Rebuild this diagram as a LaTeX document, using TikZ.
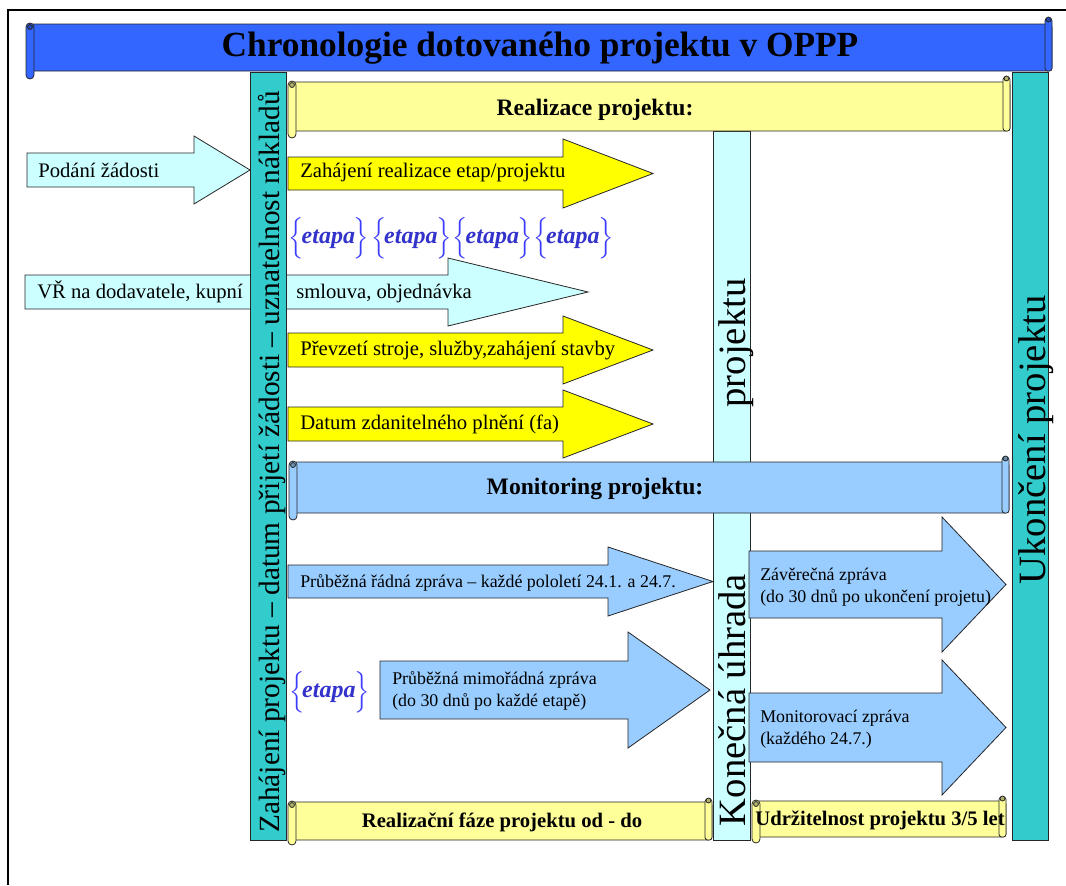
\documentclass[tikz,border=0pt]{standalone}
\usepackage{amsmath}
\usepackage{fontspec}
\setmainfont{Liberation Serif}
\definecolor{titleblue}{RGB}{51,102,255}
\definecolor{barteal}{RGB}{51,204,204}
\definecolor{lightcy}{RGB}{204,255,255}
\definecolor{arrowyellow}{RGB}{255,255,0}
\definecolor{scrollyellow}{RGB}{255,255,153}
\definecolor{lightblue}{RGB}{153,204,255}
\definecolor{etapablue}{RGB}{51,51,204}
\definecolor{bracebl}{RGB}{60,60,255}
\newcommand\drawscroll[6]{%
 \draw[outl, fill=#6, rounded corners=2.5pt] (#1+4,#2+#5) rectangle (#3,#4-#5);
 \draw[outl, fill=#6, rounded corners=2pt] (#3-7,#2+2) rectangle (#3,#4-#5);
 \draw[outl, fill=#6!70!black] (#3-3.5,#2+3.5) circle[radius=2.5];
 \draw[outl, fill=#6, rounded corners=3pt] (#1,#2+#5-1) rectangle (#1+8,#4);
 \draw[outl, fill=#6!70!black] (#1+4,#2+#5+3) circle[radius=2.5];
}
\newcommand\barrow[7]{%
 \draw[outl, fill=#7] (#1,#4) -- (#2,#4) -- (#2,#4-#6) -- (#3,{(#4+#5)/2}) -- (#2,#5+#6) -- (#2,#5) -- (#1,#5) -- cycle;}
\newcommand\etapa{{\fontsize{17}{17}\selectfont\textcolor{bracebl}{$\Bigl\{$}}\kern-2pt\textcolor{etapablue}{\bfseries\itshape etapa}\kern-1pt{\fontsize{17}{17}\selectfont\textcolor{bracebl}{$\Bigr\}$}}}
\tikzset{
 outl/.style={draw=black!85, line width=0.6pt},
 txt/.style={inner sep=0pt, font=\fontsize{15.5}{18}\selectfont},
 small/.style={inner sep=0pt, font=\fontsize{13.4}{16.5}\selectfont, align=left},
 bold/.style={inner sep=0pt, font=\fontsize{#1}{#1}\selectfont\bfseries},
 big/.style={rotate=90, inner sep=0pt, font=\fontsize{29}{30}\selectfont, text height=22pt, text depth=7pt},
 etap/.style={inner sep=0pt, font=\fontsize{18}{20}\selectfont},
}
\begin{document}
\begin{tikzpicture}[x=0.75pt,y=-0.75pt]
\useasboundingbox (0,0) rectangle (1066,885);
% frame
\draw[line width=2pt] (8,885) -- (8,10) -- (1066,10);
% arrow behind left bar
\barrow{25}{448}{588}{275}{309}{17}{lightcy}
% bars
\draw[outl, fill=barteal] (250,72) rectangle (286,840);
\draw[outl, fill=lightcy] (713,131) rectangle (750,840);
\draw[outl, fill=barteal] (1012,72) rectangle (1048,840);
% scrolls
\drawscroll{26}{16}{1052}{79}{8}{titleblue}
\drawscroll{288}{75}{1010}{138}{7}{scrollyellow}
\drawscroll{289}{455}{1009}{520}{7}{lightblue}
\drawscroll{288}{797}{712}{845}{5}{scrollyellow}
\drawscroll{752}{795}{1006}{843}{6}{scrollyellow}
% block arrows
\barrow{27}{194}{250}{153}{187}{17}{lightcy}
\barrow{288}{563}{653}{157}{190}{18}{arrowyellow}
\barrow{288}{563}{653}{333}{367}{17}{arrowyellow}
\barrow{288}{563}{653}{407}{441}{17}{arrowyellow}
\barrow{288}{608}{713}{565}{598}{18}{lightblue}
\barrow{380}{628}{710}{661}{719}{29}{lightblue}
\barrow{749}{942}{1006}{551}{618}{34}{lightblue}
\barrow{749}{942}{1006}{693}{762}{33}{lightblue}
% titles
\node[bold=26.5] (title) at (540,48) {Chronologie dotovaného projektu v OPPP};
\node[bold=17.7] (realiz) at (595,110) {Realizace projektu:};
\node[bold=17.7] (monit) at (595,489) {Monitoring projektu:};
\node[bold=15.5] (realfaze) at (502,822) {Realizační fáze projektu od - do};
\node[bold=15.5] (udrz) at (880,820) {Udržitelnost projektu 3/5 let};
% arrow texts
\node[txt, anchor=west] (podani) at (38,170) {Podání žádosti};
\node[txt, anchor=west] (zahaj) at (300,173) {Zahájení realizace etap/projektu};
\node[txt, anchor=west] (vr) at (37,292) {VŘ na dodavatele, kupní};
\node[txt, anchor=west] (smlouva) at (296,294) {smlouva, objednávka};
\node[txt, anchor=west] (prevzeti) at (300,351) {Převzetí stroje, služby,zahájení stavby};
\node[txt, anchor=west] (datum) at (300,424) {Datum zdanitelného plnění (fa)};
\node[small, anchor=west] (radna) at (300,583) {Průběžná řádná zpráva – každé pololetí 24.1. a 24.7.};
\node[small, anchor=west] (mimor) at (392,691) {Průběžná mimořádná zpráva\\(do 30 dnů po každé etapě)};
\node[small, anchor=west] (zaver) at (760,587) {Závěrečná zpráva\\(do 30 dnů po ukončení projetu)};
\node[small, anchor=west] (monzp) at (760,729) {Monitorovací zpráva\\(každého 24.7.)};
% etapy
\node[etap] (et1) at (329,238) {\etapa};
\node[etap] (et2) at (411.5,238) {\etapa};
\node[etap] (et3) at (493,238) {\etapa};
\node[etap] (et4) at (573.5,238) {\etapa};
\node[etap] (et5) at (329.5,692) {\etapa};
% vertical texts
\node[rotate=90, inner sep=0pt, font=\fontsize{22}{24}\selectfont, text height=16.5pt, text depth=5.5pt] (zahajeni) at (272.5,462) {Zahájení projektu – datum přijetí žádosti – uznatelnost nákladů};
\node[big] (projektu) at (735,343) {projektu};
\node[big] (konecna) at (735,700) {Konečná úhrada};
\node[big] (ukonceni) at (1035,440) {Ukončení projektu};
\end{tikzpicture}
\end{document}
